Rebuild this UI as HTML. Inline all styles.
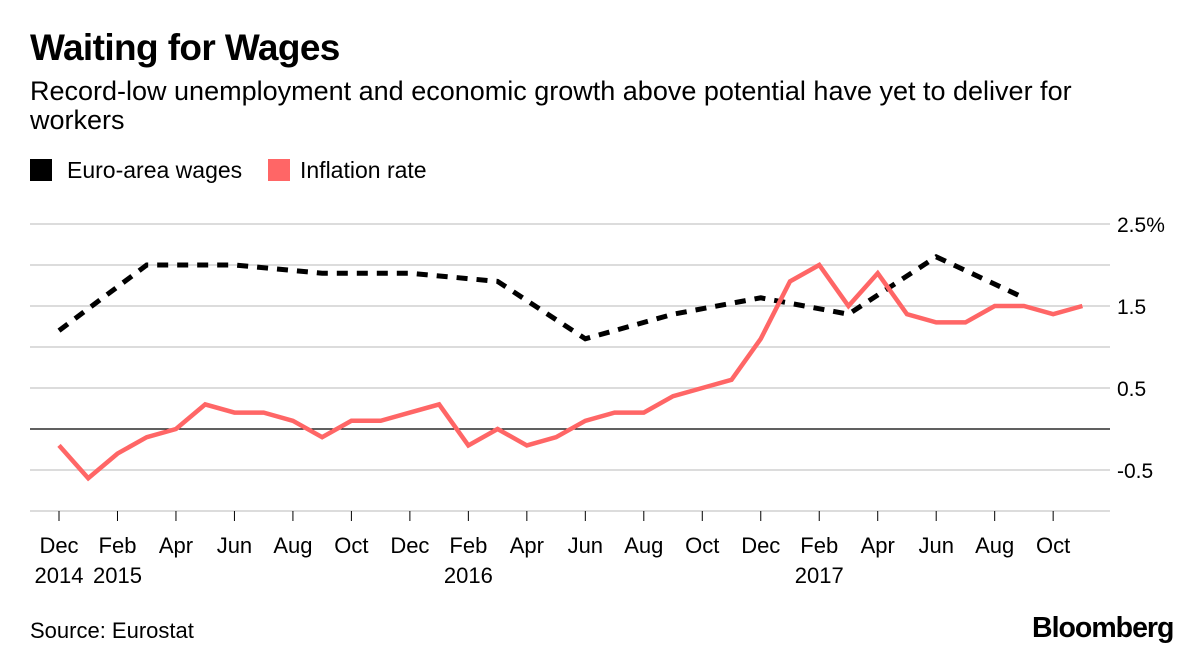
<!DOCTYPE html>
<html><head><meta charset="utf-8"><style>
body{margin:0;background:#fff;font-family:"Liberation Sans",sans-serif;}
#wrap{position:relative;width:1200px;height:656px;overflow:hidden;}
.t{position:absolute;color:#000;white-space:nowrap;}
</style></head><body>
<div id="wrap">
<div class="t" style="left:30px;top:27px;font-size:37px;font-weight:bold;letter-spacing:-0.6px">Waiting for Wages</div>
<div class="t" style="left:30px;top:77px;font-size:27px;line-height:29px;white-space:normal;width:1100px">Record-low unemployment and economic growth above potential have yet to deliver for workers</div>
<div class="t" style="left:30px;top:157px;font-size:23px"><span style="display:inline-block;width:22px;height:22px;background:#000;vertical-align:-3px;margin-right:15px"></span>Euro-area wages</div>
<div class="t" style="left:268px;top:157px;font-size:23px"><span style="display:inline-block;width:22px;height:22px;background:#ff6666;vertical-align:-3px;margin-right:10px"></span>Inflation rate</div>
<svg id="chart" width="1200" height="656" style="position:absolute;left:0;top:0"></svg>
<div class="t" style="left:30px;top:618px;font-size:22px">Source: Eurostat</div>
<div class="t" style="left:1032px;top:612px;font-size:28.5px;font-weight:bold;letter-spacing:-1px">Bloomberg</div>
</div>
<script>
const inflation=[-0.2,-0.6,-0.3,-0.1,0.0,0.3,0.2,0.2,0.1,-0.1,0.1,0.1,0.2,0.3,-0.2,0.0,-0.2,-0.1,0.1,0.2,0.2,0.4,0.5,0.6,1.1,1.8,2.0,1.5,1.9,1.4,1.3,1.3,1.5,1.5,1.4,1.5];
const wageMonths=[0,3,6,9,12,15,18,21,24,27,30,33];
const wages=[1.2,2.0,2.0,1.9,1.9,1.8,1.1,1.4,1.6,1.4,2.1,1.6];
const yTicks=[2.5,2.0,1.5,1.0,0.5,0,-0.5,-1.0];
const yLabels=["2.5%","","1.5","","0.5","","-0.5",""];
const xTickLabels=[["Dec","2014"],["Feb","2015"],["Apr",""],["Jun",""],["Aug",""],["Oct",""],["Dec",""],["Feb","2016"],["Apr",""],["Jun",""],["Aug",""],["Oct",""],["Dec",""],["Feb","2017"],["Apr",""],["Jun",""],["Aug",""],["Oct",""]];
const svg=document.getElementById('chart');const NS='http://www.w3.org/2000/svg';
const X=m=>59+m*29.24;const Y=v=>429-v*82;
function mk(t,a){const e=document.createElementNS(NS,t);for(const k in a)e.setAttribute(k,a[k]);svg.appendChild(e);return e;}
yTicks.forEach((v,i)=>{const l=mk('line',{x1:30,x2:1110,y1:Y(v),y2:Y(v),stroke:v===0?'#000':'#dcdcdc','stroke-width':v===0?1.2:2});


if(yLabels[i]){const t=mk('text',{x:1117,y:Y(v)+8,'font-size':21,'font-family':'Liberation Sans, sans-serif'});t.textContent=yLabels[i];

}});
xTickLabels.forEach((lb,i)=>{const x=X(i*2);const tk=mk('line',{x1:x,x2:x,y1:511,y2:521,stroke:'#000','stroke-width':1});


lb.forEach((s,j)=>{if(!s)return;const t=mk('text',{x:x,y:553+j*30,'font-size':22,'text-anchor':'middle','font-family':'Liberation Sans, sans-serif'});t.textContent=s;

});});
const wl=mk('polyline',{points:wages.map((v,i)=>X(wageMonths[i])+','+Y(v)).join(' '),fill:'none',stroke:'#000','stroke-width':5,'stroke-dasharray':'11,9'});


const il=mk('polyline',{points:inflation.map((v,i)=>X(i)+','+Y(v)).join(' '),fill:'none',stroke:'#ff6666','stroke-width':4.5,'stroke-linejoin':'miter'});


</script>
</body></html>
